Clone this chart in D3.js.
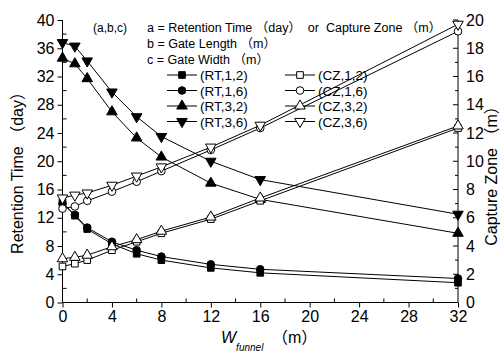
<!DOCTYPE html>
<html>
<head>
<meta charset="utf-8">
<script src="https://cdn.jsdelivr.net/npm/d3@7"></script>
<style>
  body { margin: 0; background: #fff; }
  text { font-family: "Liberation Sans", Arial, "Noto Sans CJK JP", sans-serif; fill: #000; }
</style>
</head>
<body>
<div id="container"></div>
<script>
/* CONSTANTS AND DATA */
const width = 503;
const height = 356;

const wFunnel = [0, 1, 2, 4, 6, 8, 12, 16, 32];

// retention time (day), left axis
const rt_1_2 = [14.2, 12.3, 10.4, 8.3, 6.9, 6.0, 4.9, 4.2, 2.8];
const rt_1_6 = [14.0, 12.4, 10.6, 8.6, 7.4, 6.5, 5.4, 4.7, 3.4];
const rt_3_2 = [34.6, 33.8, 31.7, 27.0, 23.3, 20.6, 16.9, 14.6, 9.8];
const rt_3_6 = [36.8, 36.3, 34.2, 29.8, 26.3, 23.5, 20.0, 17.4, 12.5];

// capture zone (m), right axis
const cz_1_2 = [2.55, 2.75, 3.0, 3.7, 4.3, 4.9, 5.9, 7.2, 12.35];
const cz_1_6 = [6.65, 6.8, 7.2, 7.85, 8.55, 9.3, 10.8, 12.35, 19.2];
const cz_3_2 = [3.1, 3.2, 3.35, 3.95, 4.45, 5.05, 6.05, 7.4, 12.5];
const cz_3_6 = [7.4, 7.6, 7.75, 8.3, 8.95, 9.6, 11.0, 12.55, 19.7];

const xTicks = [0, 4, 8, 12, 16, 20, 24, 28, 32];
const yLeftTicks = [0, 4, 8, 12, 16, 20, 24, 28, 32, 36, 40];
const yRightTicks = [0, 2, 4, 6, 8, 10, 12, 14, 16, 18, 20];

const series = [
  {name: "(RT,1,2)", values: rt_1_2, axis: "left", shape: "square", fill: "#000"},
  {name: "(RT,1,6)", values: rt_1_6, axis: "left", shape: "circle", fill: "#000"},
  {name: "(RT,3,2)", values: rt_3_2, axis: "left", shape: "up", fill: "#000"},
  {name: "(RT,3,6)", values: rt_3_6, axis: "left", shape: "down", fill: "#000"},
  {name: "(CZ,1,2)", values: cz_1_2, axis: "right", shape: "square", fill: "#fff"},
  {name: "(CZ,1,6)", values: cz_1_6, axis: "right", shape: "circle", fill: "#fff"},
  {name: "(CZ,3,2)", values: cz_3_2, axis: "right", shape: "up", fill: "#fff"},
  {name: "(CZ,3,6)", values: cz_3_6, axis: "right", shape: "down", fill: "#fff"}
];

/* SCALES */
const xScale = d3.scaleLinear().domain([0, 32]).range([62.5, 458]);
const yLeft = d3.scaleLinear().domain([0, 40]).range([302.5, 20]);
const yRight = d3.scaleLinear().domain([0, 20]).range([302.5, 20]);

/* SVG */
const svg = d3.select("#container")
  .append("svg")
  .attr("width", width)
  .attr("height", height);

// axes
const xAxis = svg.append("g")
  .attr("transform", `translate(0,${yLeft(0)})`)
  .call(d3.axisBottom(xScale).tickValues(xTicks).tickSize(5).tickPadding(3).tickFormat(d3.format("d")));
xAxis.select(".domain").attr("d", `M${xScale(0)},0H${xScale(32)}`);
xAxis.selectAll("text").style("font-size", "16px");
// minor ticks on x (inside)
svg.append("g").selectAll("line")
  .data(d3.range(2, 32, 4))
  .join("line")
  .attr("x1", d => xScale(d)).attr("x2", d => xScale(d))
  .attr("y1", yLeft(0)).attr("y2", yLeft(0) - 4)
  .attr("stroke", "#000");

const leftAxis = svg.append("g")
  .attr("transform", `translate(${xScale(0)},0)`)
  .call(d3.axisLeft(yLeft).tickValues(yLeftTicks).tickSize(5).tickPadding(3));
leftAxis.select(".domain").attr("d", `M0,${yLeft(0)}V${yLeft(40)}`);
leftAxis.selectAll("text").style("font-size", "16px");
svg.append("g").selectAll("line")
  .data(d3.range(2, 40, 4))
  .join("line")
  .attr("x1", xScale(0)).attr("x2", xScale(0) + 4)
  .attr("y1", d => yLeft(d)).attr("y2", d => yLeft(d))
  .attr("stroke", "#000");

const rightAxis = svg.append("g")
  .attr("transform", `translate(${xScale(32)},0)`)
  .call(d3.axisRight(yRight).tickValues(yRightTicks).tickSize(0).tickPadding(8));
rightAxis.select(".domain").attr("d", `M0,${yRight(0)}V${yRight(20)}`);
rightAxis.selectAll("text").style("font-size", "16px");
svg.append("g").selectAll("line")
  .data(d3.range(0, 21, 1))
  .join("line")
  .attr("x1", xScale(32)).attr("x2", d => xScale(32) - (d % 2 === 0 ? 5 : 3))
  .attr("y1", d => yRight(d)).attr("y2", d => yRight(d))
  .attr("stroke", "#000");

svg.selectAll(".domain, .tick line").attr("stroke", "#000");

// axis titles
svg.append("text")
  .attr("transform", "translate(23,169) rotate(-90)")
  .attr("text-anchor", "middle")
  .style("font-size", "16px")
  .text("Retention Time （day）");

svg.append("text")
  .attr("transform", "translate(497,172) rotate(-90)")
  .attr("text-anchor", "middle")
  .style("font-size", "16px")
  .text("Capture Zone （m）");

const xt = svg.append("text").attr("x", 221).attr("y", 343).style("font-size", "16px");
xt.append("tspan").style("font-style", "italic").text("W");
xt.append("tspan").style("font-style", "italic").style("font-size", "10px").attr("dy", 8).text("funnel");
svg.append("text").attr("x", 272).attr("y", 343).style("font-size", "16px").text("（m）");

/* MARKERS */
function symbolFor(shape) {
  if (shape === "square") return d3.symbol(d3.symbolSquare, 44)();
  if (shape === "circle") return d3.symbol(d3.symbolCircle, 46)();
  return d3.symbol(d3.symbolTriangle, 48)();
}

const line = d3.line();

series.forEach(s => {
  const yS = s.axis === "left" ? yLeft : yRight;
  const pts = s.values.map((v, i) => [xScale(wFunnel[i]), yS(v)]);
  svg.append("path")
    .attr("d", line(pts))
    .attr("fill", "none")
    .attr("stroke", "#000")
    .attr("stroke-width", 1);
  svg.append("g").selectAll("path")
    .data(pts)
    .join("path")
    .attr("d", symbolFor(s.shape))
    .attr("transform", d => `translate(${d[0]},${d[1]})` + (s.shape === "down" ? " rotate(180)" : ""))
    .attr("fill", s.fill)
    .attr("stroke", "#000")
    .attr("stroke-width", 1);
});

/* LEGEND */
svg.append("text").attr("x", 93).attr("y", 32).style("font-size", "12px").text("(a,b,c)");
const notes = ["a = Retention Time （day）  or  Capture Zone （m）", "b = Gate Length （m）", "c = Gate Width （m）"];
svg.append("g").selectAll("text")
  .data(notes)
  .join("text")
  .attr("x", 147)
  .attr("y", (d, i) => 32 + i * 16)
  .style("font-size", "12.5px")
  .style("white-space", "pre")
  .attr("xml:space", "preserve")
  .text(d => d);

const legend = svg.append("g");
series.forEach((s, i) => {
  const col = i < 4 ? 0 : 1;
  const row = i % 4;
  const x0 = col === 0 ? 167 : 285;
  const y0 = 75 + row * 15.5;
  legend.append("line")
    .attr("x1", x0).attr("x2", x0 + 30)
    .attr("y1", y0).attr("y2", y0)
    .attr("stroke", "#000");
  legend.append("path")
    .attr("d", symbolFor(s.shape))
    .attr("transform", `translate(${x0 + 15},${y0})` + (s.shape === "down" ? " rotate(180)" : ""))
    .attr("fill", s.fill)
    .attr("stroke", "#000");
  legend.append("text")
    .attr("x", x0 + 33)
    .attr("y", y0 + 5)
    .style("font-size", "13.5px")
    .text(s.name);
});
</script>
</body>
</html>
